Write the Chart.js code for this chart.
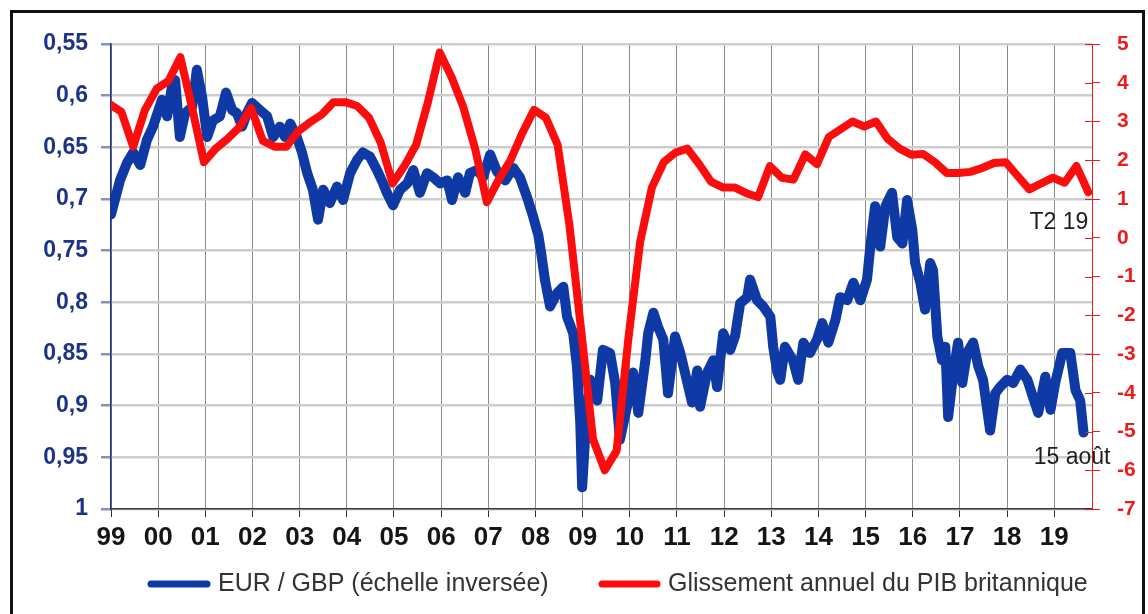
<!DOCTYPE html>
<html lang="fr">
<head>
<meta charset="utf-8">
<title>EUR/GBP et PIB britannique</title>
<script src="https://cdn.jsdelivr.net/npm/chart.js@4.4.1/dist/chart.umd.min.js"></script>
<style>
  html, body { margin: 0; padding: 0; background: #fff; }
  #wrap { width: 1148px; height: 614px; position: relative; }
</style>
</head>
<body>
<div id="wrap"><canvas id="chart" width="1148" height="614"></canvas></div>
<script>
// ── DATA ─────────────────────────────────────────────────────
// EUR/GBP (left axis, inverted), dates as decimal years
const eurgbpDates = [
  1999.00, 1999.19, 1999.34, 1999.47, 1999.62, 1999.76, 1999.89,
  2000.08, 2000.19, 2000.29, 2000.36, 2000.46, 2000.57, 2000.72, 2000.82, 2000.93,
  2001.04, 2001.16, 2001.31, 2001.44, 2001.57, 2001.67, 2001.78, 2001.88, 2001.99,
  2002.16, 2002.31, 2002.44, 2002.58, 2002.69, 2002.80, 2002.94,
  2003.05, 2003.16, 2003.28, 2003.39, 2003.50, 2003.64, 2003.79, 2003.92,
  2004.07, 2004.22, 2004.34, 2004.49, 2004.64, 2004.77, 2004.85, 2004.98,
  2005.13, 2005.28, 2005.41, 2005.55, 2005.70, 2005.83, 2005.98,
  2006.13, 2006.23, 2006.36, 2006.51, 2006.61, 2006.76, 2006.89,
  2007.04, 2007.19, 2007.36, 2007.53, 2007.67, 2007.82, 2007.95,
  2008.06, 2008.12, 2008.20, 2008.31, 2008.46, 2008.59, 2008.67, 2008.80, 2008.88, 2008.95, 2008.99,
  2009.05, 2009.16, 2009.31, 2009.43, 2009.58, 2009.69, 2009.79, 2009.94,
  2010.07, 2010.18, 2010.33, 2010.39, 2010.50, 2010.60, 2010.71, 2010.81, 2010.96,
  2011.07, 2011.17, 2011.32, 2011.43, 2011.49, 2011.64, 2011.77, 2011.85, 2011.98,
  2012.13, 2012.23, 2012.34, 2012.49, 2012.55, 2012.70, 2012.83, 2012.98,
  2013.04, 2013.13, 2013.19, 2013.29, 2013.46, 2013.57, 2013.68, 2013.82, 2013.97,
  2014.08, 2014.21, 2014.36, 2014.46, 2014.61, 2014.74, 2014.89,
  2015.03, 2015.10, 2015.20, 2015.31, 2015.42, 2015.56, 2015.67, 2015.78, 2015.88, 2015.99,
  2016.05, 2016.16, 2016.26, 2016.37, 2016.43, 2016.52, 2016.62, 2016.69, 2016.75, 2016.86, 2016.96,
  2017.05, 2017.15, 2017.28, 2017.39, 2017.49, 2017.64, 2017.75, 2017.85,
  2018.00, 2018.13, 2018.28, 2018.43, 2018.55, 2018.66, 2018.81, 2018.92,
  2019.02, 2019.17, 2019.34, 2019.45, 2019.55, 2019.62
];
const eurgbpValues = [
  0.715, 0.682, 0.665, 0.655, 0.667, 0.643, 0.630,
  0.604, 0.620, 0.592, 0.585, 0.640, 0.617, 0.611, 0.575, 0.601,
  0.640, 0.624, 0.620, 0.597, 0.614, 0.617, 0.630, 0.617, 0.607,
  0.614, 0.620, 0.640, 0.630, 0.640, 0.627, 0.640,
  0.655, 0.675, 0.691, 0.720, 0.691, 0.704, 0.688, 0.701,
  0.675, 0.662, 0.655, 0.659, 0.672, 0.685, 0.694, 0.706,
  0.691, 0.685, 0.672, 0.694, 0.675, 0.679, 0.685,
  0.682, 0.701, 0.679, 0.694, 0.675, 0.672, 0.679,
  0.657, 0.674, 0.682, 0.670, 0.679, 0.698, 0.717,
  0.735, 0.752, 0.778, 0.804, 0.791, 0.785, 0.814, 0.830, 0.862, 0.917, 0.979,
  0.933, 0.875, 0.895, 0.846, 0.849, 0.878, 0.933, 0.901,
  0.868, 0.907, 0.856, 0.830, 0.810, 0.824, 0.836, 0.888, 0.833,
  0.849, 0.868, 0.897, 0.866, 0.901, 0.868, 0.856, 0.882, 0.830,
  0.846, 0.833, 0.801, 0.795, 0.778, 0.798, 0.804, 0.814,
  0.843, 0.868, 0.875, 0.843, 0.856, 0.875, 0.839, 0.849, 0.836,
  0.820, 0.839, 0.817, 0.795, 0.798, 0.781, 0.798,
  0.778, 0.746, 0.707, 0.746, 0.707, 0.694, 0.737, 0.743, 0.701, 0.730,
  0.762, 0.781, 0.807, 0.762, 0.769, 0.833, 0.856, 0.843, 0.911, 0.868, 0.839,
  0.878, 0.849, 0.839, 0.862, 0.875, 0.924, 0.888, 0.882,
  0.875, 0.878, 0.865, 0.875, 0.892, 0.907, 0.872, 0.904,
  0.878, 0.849, 0.849, 0.885, 0.895, 0.926
];

// UK GDP, year-on-year % (right axis), quarterly from T3 1998 to T2 2019
const gdpFirstQuarter = [1998, 3];
const gdpValues = [
  3.45, 3.25,
  2.35, 3.3, 3.85, 4.05,
  4.66, 3.35, 1.95, 2.3,
  2.55, 2.85, 3.35, 2.5,
  2.35, 2.35, 2.75, 2.98,
  3.18, 3.5, 3.5, 3.4,
  3.1, 2.45, 1.4, 1.85,
  2.4, 3.5, 4.78, 4.15,
  3.37, 2.3, 0.92, 1.5,
  2.0, 2.7, 3.3, 3.1,
  2.4, 0.33, -2.4, -5.2,
  -6.0, -5.5, -2.6, -0.1,
  1.3, 1.95, 2.2, 2.3,
  1.9, 1.45, 1.3, 1.3,
  1.15, 1.05, 1.85, 1.55,
  1.5, 2.15, 1.9, 2.6,
  2.8, 3.0, 2.87, 3.0,
  2.55, 2.3, 2.14, 2.16,
  1.95, 1.67, 1.67, 1.7,
  1.8, 1.93, 1.95, 1.6,
  1.25, 1.4, 1.55, 1.42,
  1.85, 1.18
];
// quarterly points are plotted about half a year after the quarter starts
const gdpPlotShift = 0.47;

// axis ticks
const xTickYears  = [1999, 2000, 2001, 2002, 2003, 2004, 2005, 2006, 2007, 2008,
                     2009, 2010, 2011, 2012, 2013, 2014, 2015, 2016, 2017, 2018, 2019];
const leftTicks   = [0.55, 0.6, 0.65, 0.7, 0.75, 0.8, 0.85, 0.9, 0.95, 1];
const rightTicks  = [5, 4, 3, 2, 1, 0, -1, -2, -3, -4, -5, -6, -7];

const seriesLabels = ['EUR / GBP (échelle inversée)', 'Glissement annuel du PIB britannique'];
const noteGdp = 'T2 19';
const noteFx  = '15 août';

// ── STYLE ────────────────────────────────────────────────────
const COLORS = {
  blue:     '#0f3aa6',
  red:      '#fb0d0d',
  navy:     '#1d3486',
  redTick:  '#ee1b1b',
  gridH:    '#cdcdcd',
  gridV:    '#8c8c8c',
  ink:      '#151515',
  text:     '#333333',
};
const FONT = "'Liberation Sans', Arial, sans-serif";

// ── BUILD POINTS ─────────────────────────────────────────────
const eurgbpPoints = eurgbpDates.map((d, i) => ({ x: d, y: eurgbpValues[i] }));
const gdpPoints = gdpValues.map((v, i) => {
  const q = gdpFirstQuarter[1] - 1 + i;
  const year = gdpFirstQuarter[0] + Math.floor(q / 4);
  return { x: year + (q % 4) / 4 + gdpPlotShift, y: v };
});

const fmtFr = v => String(Math.round(v * 100) / 100).replace('.', ',');

// ── PLUGINS ──────────────────────────────────────────────────
const frame = {
  id: 'frame',
  beforeDraw(chart) {
    const { ctx } = chart;
    ctx.save();
    ctx.fillStyle = '#fff';
    ctx.fillRect(0, 0, chart.width, chart.height);
    ctx.strokeStyle = '#111';
    ctx.lineWidth = 3;
    ctx.strokeRect(11.5, 11.5, 1132, 700);
    ctx.restore();
  },
};

const extras = {
  id: 'extras',
  afterDraw(chart) {
    const { ctx, scales } = chart;
    const y2 = scales.y2, x = scales.x;
    ctx.save();

    // inner tick marks on the right axis
    ctx.strokeStyle = COLORS.redTick;
    ctx.lineWidth = 1;
    rightTicks.forEach(v => {
      const py = Math.round(y2.getPixelForValue(v)) + 0.5;
      ctx.beginPath();
      ctx.moveTo(y2.left - 7, py);
      ctx.lineTo(y2.left, py);
      ctx.stroke();
    });

    // notes
    ctx.fillStyle = '#1e1e1e';
    ctx.font = `23px ${FONT}`;
    ctx.textBaseline = 'middle';
    ctx.textAlign = 'right';
    const lastGdp = gdpPoints[gdpPoints.length - 1];
    ctx.fillText(noteGdp, x.getPixelForValue(lastGdp.x), y2.getPixelForValue(0.4));
    const lastFx = eurgbpPoints[eurgbpPoints.length - 1];
    ctx.fillText(noteFx, x.getPixelForValue(lastFx.x) + 27, scales.y.getPixelForValue(0.95));

    // legend
    const ly = 584;
    const items = [
      { x0: 151, x1: 207, tx: 218, color: COLORS.blue, label: seriesLabels[0] },
      { x0: 602, x1: 657, tx: 668, color: COLORS.red,  label: seriesLabels[1] },
    ];
    ctx.textAlign = 'left';
    ctx.font = `25px ${FONT}`;
    items.forEach(it => {
      ctx.strokeStyle = it.color;
      ctx.lineWidth = 7;
      ctx.lineCap = 'round';
      ctx.beginPath();
      ctx.moveTo(it.x0, ly);
      ctx.lineTo(it.x1, ly);
      ctx.stroke();
      ctx.fillStyle = COLORS.text;
      ctx.fillText(it.label, it.tx, ly);
    });
    ctx.restore();
  },
};

// ── CHART ────────────────────────────────────────────────────
new Chart(document.getElementById('chart'), {
  type: 'line',
  data: {
    datasets: [
      {
        label: seriesLabels[1],
        data: gdpPoints,
        yAxisID: 'y2',
        borderColor: COLORS.red,
        borderWidth: 8,
        pointRadius: 0,
        tension: 0,
        borderJoinStyle: 'round',
        borderCapStyle: 'round',
        order: 0,
      },
      {
        label: seriesLabels[0],
        data: eurgbpPoints,
        yAxisID: 'y',
        borderColor: COLORS.blue,
        borderWidth: 10,
        pointRadius: 0,
        tension: 0,
        borderJoinStyle: 'round',
        borderCapStyle: 'round',
        order: 1,
      },
    ],
  },
  options: {
    responsive: false,
    animation: false,
    devicePixelRatio: 1,
    layout: { padding: { left: 0, right: 0, top: 44, bottom: 0 } },
    plugins: {
      legend:  { display: false },
      tooltip: { enabled: false },
    },
    scales: {
      x: {
        type: 'linear',
        min: 1999,
        max: 2019.8,
        afterBuildTicks: s => { s.ticks = xTickYears.map(v => ({ value: v })); },
        afterFit: s => { s.height = 105; },
        ticks: {
          autoSkip: false,
          maxRotation: 0,
          padding: 5,
          color: COLORS.ink,
          font: { family: FONT, size: 26, weight: 'bold' },
          callback: v => String(v % 100).padStart(2, '0'),
        },
        grid: {
          color: COLORS.gridV,
          lineWidth: 1,
          tickLength: 8,
          tickColor: '#333',
        },
        border: { color: '#3a3a3a', width: 1.5 },
      },
      y: {
        position: 'left',
        reverse: true,
        min: 0.55,
        max: 1,
        afterBuildTicks: s => { s.ticks = leftTicks.map(v => ({ value: v })); },
        afterFit: s => { s.width = 111; },
        ticks: {
          padding: 13,
          color: COLORS.navy,
          font: { family: FONT, size: 23, weight: 'bold' },
          callback: v => fmtFr(v),
        },
        grid: {
          color: COLORS.gridH,
          lineWidth: 2.5,
          tickLength: 10,
          tickColor: '#8593b5',
        },
        border: { color: COLORS.navy, width: 1.5 },
      },
      y2: {
        position: 'right',
        min: -7,
        max: 5,
        afterBuildTicks: s => { s.ticks = rightTicks.map(v => ({ value: v })); },
        afterFit: s => { s.width = 56; },
        ticks: {
          padding: 17,
          color: COLORS.redTick,
          font: { family: FONT, size: 21, weight: 'bold' },
          callback: v => String(v),
        },
        grid: {
          drawOnChartArea: false,
          tickLength: 8,
          tickColor: COLORS.redTick,
        },
        border: { color: COLORS.redTick, width: 1 },
      },
    },
  },
  plugins: [frame, extras],
});
</script>
</body>
</html>
